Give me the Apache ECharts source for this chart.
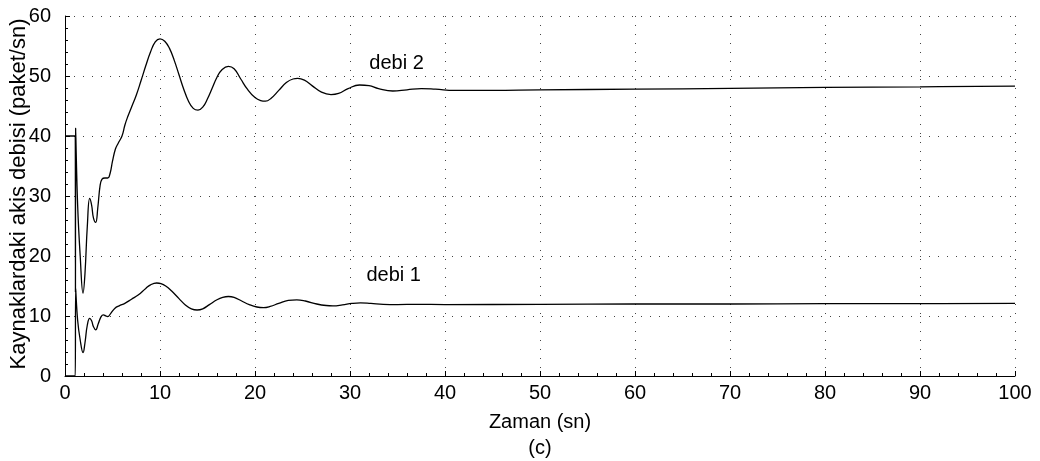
<!DOCTYPE html>
<html>
<head>
<meta charset="utf-8">
<script src="https://cdn.jsdelivr.net/npm/echarts@6/dist/echarts.min.js"></script>
<style>
  html, body { margin: 0; padding: 0; background: #fff; }
  #chart { width: 1040px; height: 461px; }
</style>
</head>
<body>
<div id="chart"></div>
<script>
// Source flow rates over time: [time (s), rate (packets/s)]
const debi1 = [
  [0, 0], [1.08, 0], [1.12, 14.6], [1.33, 9.3], [1.6, 6], [1.9, 3.9], [2.1, 5.5], [2.35, 8.5],
  [2.6, 9.6], [2.8, 9.2], [3.0, 8.2], [3.23, 7.7], [3.5, 8.7], [3.8, 9.9], [4.04, 10.2],
  [4.3, 10.0], [4.5, 9.9], [4.8, 10.4], [5.26, 11.3], [5.7, 11.7], [6.3, 12.1], [7.0, 12.8],
  [7.7, 13.5], [8.5, 14.6], [9.0, 15.2], [9.65, 15.5], [10.1, 15.4], [10.6, 15.0], [11.2, 14.2],
  [12.0, 12.9], [12.7, 11.8], [13.3, 11.2], [13.9, 11.0], [14.5, 11.2], [15.2, 11.9], [16.0, 12.7],
  [16.6, 13.1], [17.2, 13.25], [17.8, 13.1], [18.6, 12.5], [19.4, 11.9], [20.2, 11.5], [20.9, 11.4],
  [21.6, 11.6], [22.5, 12.1], [23.5, 12.6], [24.4, 12.7], [25.3, 12.5], [26.5, 12.0], [27.5, 11.75],
  [28.2, 11.7], [29.2, 11.85], [30.2, 12.1], [31.1, 12.2], [32.2, 12.1], [33.5, 11.95], [35, 11.9],
  [37, 11.95], [40, 11.9], [50, 11.95], [60, 12.0], [70, 12.0], [80, 12.05], [90, 12.05], [100, 12.1]
];

const debi2 = [
  [0, 40], [1.08, 40], [1.1, 14], [1.12, 41.3], [1.33, 28.5], [1.6, 20], [1.9, 13.8], [2.1, 17],
  [2.35, 25], [2.6, 29.6], [2.8, 28.5], [3.0, 26.3], [3.23, 25.6], [3.45, 28], [3.7, 31.8],
  [3.9, 32.8], [4.2, 33], [4.5, 33], [4.75, 33.8], [5.0, 35.8], [5.3, 37.8], [5.6, 38.8],
  [6.0, 40], [6.3, 41.8], [6.6, 43.2], [7.0, 44.8], [7.5, 46.8], [8.0, 49.2], [8.5, 51.7],
  [9.0, 54], [9.5, 55.7], [10.0, 56.2], [10.5, 55.8], [11.0, 54.6], [11.5, 52.6], [12.0, 50.2],
  [12.5, 47.8], [13.0, 45.8], [13.5, 44.6], [14.0, 44.3], [14.5, 44.8], [15.0, 46.2], [15.5, 48],
  [16.0, 49.8], [16.5, 51], [17.2, 51.6], [17.8, 51.2], [18.5, 49.5], [19.2, 47.8], [20.0, 46.4],
  [20.6, 45.9], [21.1, 45.8], [21.7, 46.3], [22.5, 47.6], [23.3, 48.9], [24.0, 49.5], [24.5, 49.6],
  [25.2, 49.3], [26.0, 48.4], [27.0, 47.3], [28.0, 46.9], [28.8, 47.1], [29.8, 47.9], [31.0, 48.5],
  [32.0, 48.4], [33.0, 47.9], [34.5, 47.5], [36.0, 47.7], [37.5, 47.9], [39, 47.8], [41, 47.6],
  [45, 47.6], [50, 47.7], [60, 47.8], [70, 47.95], [80, 48.1], [90, 48.2], [100, 48.3]
];

// Curve labels anchored in data coordinates
const curveLabels = [
  { text: 'debi 2', at: [34.9, 52.1] },
  { text: 'debi 1', at: [34.6, 16.7] }
];

const xTicks = { min: 0, max: 100, step: 10 };
const yTicks = { min: 0, max: 60, step: 10 };
const yTitle = 'Kaynaklardaki akis debisi (paket/sn)';

const FONT = 'Liberation Sans, Arial, Helvetica, sans-serif';
const chart = echarts.init(document.getElementById('chart'), null, { renderer: 'canvas' });

const dotted = { color: '#444', width: 1, type: [1, 8] };

const lineSeries = (name, data) => ({
  name, type: 'line', data,
  showSymbol: false, smooth: 0.45,
  lineStyle: { color: '#000', width: 1.3 },
  z: 3, animation: false
});

chart.setOption({
  animation: false,
  backgroundColor: '#fff',
  grid: { left: 65, right: 25, top: 16, bottom: 85, containLabel: false, outerBoundsMode: 'none' },
  xAxis: {
    type: 'value', min: xTicks.min, max: xTicks.max, interval: xTicks.step,
    name: 'Zaman (sn)\n(c)', nameLocation: 'middle', nameGap: 33,
    nameTextStyle: { fontFamily: FONT, fontSize: 20, color: '#000', lineHeight: 26 },
    axisLine: { show: true, lineStyle: { color: '#000', width: 1 } },
    axisTick: { show: true, inside: true, length: 5, lineStyle: { color: '#000' } },
    minorTick: { show: true, splitNumber: 5, length: 3, lineStyle: { color: '#000' } },
    axisLabel: { fontFamily: FONT, fontSize: 20, color: '#000', margin: 7 },
    splitLine: { show: true, lineStyle: dotted }
  },
  yAxis: {
    type: 'value', min: yTicks.min, max: yTicks.max, interval: yTicks.step,
    axisLine: { show: true, lineStyle: { color: '#000', width: 1 } },
    axisTick: { show: true, inside: true, length: 5, lineStyle: { color: '#000' } },
    minorTick: { show: true, splitNumber: 5, length: 3, lineStyle: { color: '#000' } },
    axisLabel: { fontFamily: FONT, fontSize: 20, color: '#000', margin: 14 },
    splitLine: { show: true, lineStyle: dotted }
  },
  // Rotated y-axis title
  graphic: [{
    type: 'text', x: 19, y: 194, rotation: Math.PI / 2, silent: true,
    style: {
      text: yTitle, fill: '#000', align: 'center', verticalAlign: 'middle',
      font: '22px ' + FONT
    }
  }],
  series: [
    lineSeries('debi 1', debi1),
    lineSeries('debi 2', debi2),
    {
      type: 'scatter', symbolSize: 1, silent: true, animation: false,
      itemStyle: { opacity: 0 },
      data: curveLabels.map(l => ({ value: l.at, name: l.text })),
      label: {
        show: true, position: 'inside', formatter: p => p.name,
        fontFamily: FONT, fontSize: 20, color: '#000',
        textBorderWidth: 0, textBorderColor: 'transparent', opacity: 1
      }
    }
  ]
});
</script>
</body>
</html>
